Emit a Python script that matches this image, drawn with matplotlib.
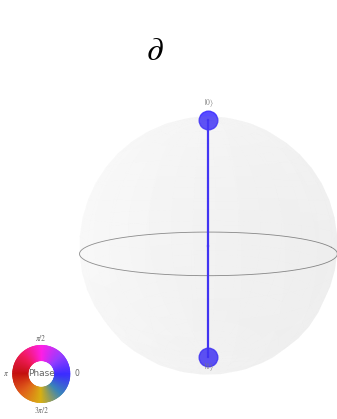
import numpy as np
import matplotlib
matplotlib.use('Agg')
import matplotlib.pyplot as plt
from matplotlib.colors import LinearSegmentedColormap

# Basis states, their weights and phases
state_labels = ['0', '1']
probs = [0.5, 0.5]
phases = [0.0, 0.0]
theta = [0.0, np.pi]   # polar angle on the sphere for each basis state

# Cyclic phase colours (0 -> blue, pi/2 -> magenta, pi -> red, 3pi/2 -> yellow)
phase_cmap = LinearSegmentedColormap.from_list(
    'phase', ['#3b2cff', '#9a3cff', '#ff1ee6', '#f01a5a', '#c4100e',
              '#e0601a', '#d8b012', '#3a86b8', '#3b2cff'])

plt.rcParams['mathtext.fontset'] = 'stix'

fig = plt.figure(figsize=(3.37, 4.19), dpi=100)
fig.text(0.46, 0.88, r'$\partial$', fontsize=24, ha='center', va='center')

ax = fig.add_axes([0.105, -0.047, 1.0, 0.9], projection='3d')
ax.set_xlim3d(-1, 1)
ax.set_ylim3d(-1, 1)
ax.set_zlim3d(-1, 1)
ax.set_proj_type('persp', focal_length=0.17)
ax.set_box_aspect((1, 1, 1), zoom=1.19)
ax.view_init(elev=9, azim=275)
ax.grid(False)
ax.set_axis_off()

# Semi-transparent sphere
u = np.linspace(0, 2 * np.pi, 25)
v = np.linspace(0, np.pi, 25)
x = np.outer(np.cos(u), np.sin(v))
y = np.outer(np.sin(u), np.sin(v))
z = np.outer(np.ones(np.size(u)), np.cos(v))
ax.plot_surface(x, y, z, rstride=1, cstride=1, color='#c8c8c8', alpha=0.05, linewidth=0)

# Equator
ue = np.linspace(0, 2 * np.pi, 100)
ax.plot(np.cos(ue), np.sin(ue), np.zeros_like(ue), color='#8a8a8a', lw=0.6)

for lab, p, ph, th in zip(state_labels, probs, phases, theta):
    col = phase_cmap((ph % (2 * np.pi)) / (2 * np.pi))
    xv, yv, zv = np.sin(th), 0.0, np.cos(th)
    ax.plot([0, xv], [0, yv], [0, zv], lw=1.6, color=col)
    ax.scatter([xv], [yv], [zv], s=180, color=col, alpha=0.85, depthshade=False)
    zt = 1.13 if zv > 0 else -1.1
    ax.text(0, 0, zt, r'$\vert%s\rangle$' % lab, ha='center', va='center',
            fontsize=5.5, color='#777777')

# Phase wheel
ax2 = fig.add_axes([0.0, 0.0, 0.245, 0.215])
ax2.axis('off')
n = 256
wcols = [phase_cmap(k / n) for k in range(n)]
wedges, _ = ax2.pie([1] * n, colors=wcols, radius=0.87, startangle=0, counterclock=True,
                    wedgeprops=dict(width=0.47, linewidth=0.4))
for w in wedges:
    w.set_edgecolor(w.get_facecolor())
ax2.text(0, 0, 'Phase', ha='center', va='center', fontsize=6.5, color='#666666')
off = 1.08
ax2.text(off, 0, '0', ha='center', va='center', fontsize=5.5, color='#666666')
ax2.text(0, off, r'$\pi/2$', ha='center', va='center', fontsize=5.5, color='#666666')
ax2.text(-off, 0, r'$\pi$', ha='center', va='center', fontsize=5.5, color='#666666')
ax2.text(0, -off, r'$3\pi/2$', ha='center', va='center', fontsize=5.5, color='#666666')
ax2.set_xlim(-1.25, 1.25)
ax2.set_ylim(-1.25, 1.25)
ax2.set_aspect('equal')

fig.savefig('out.png', dpi=100)
